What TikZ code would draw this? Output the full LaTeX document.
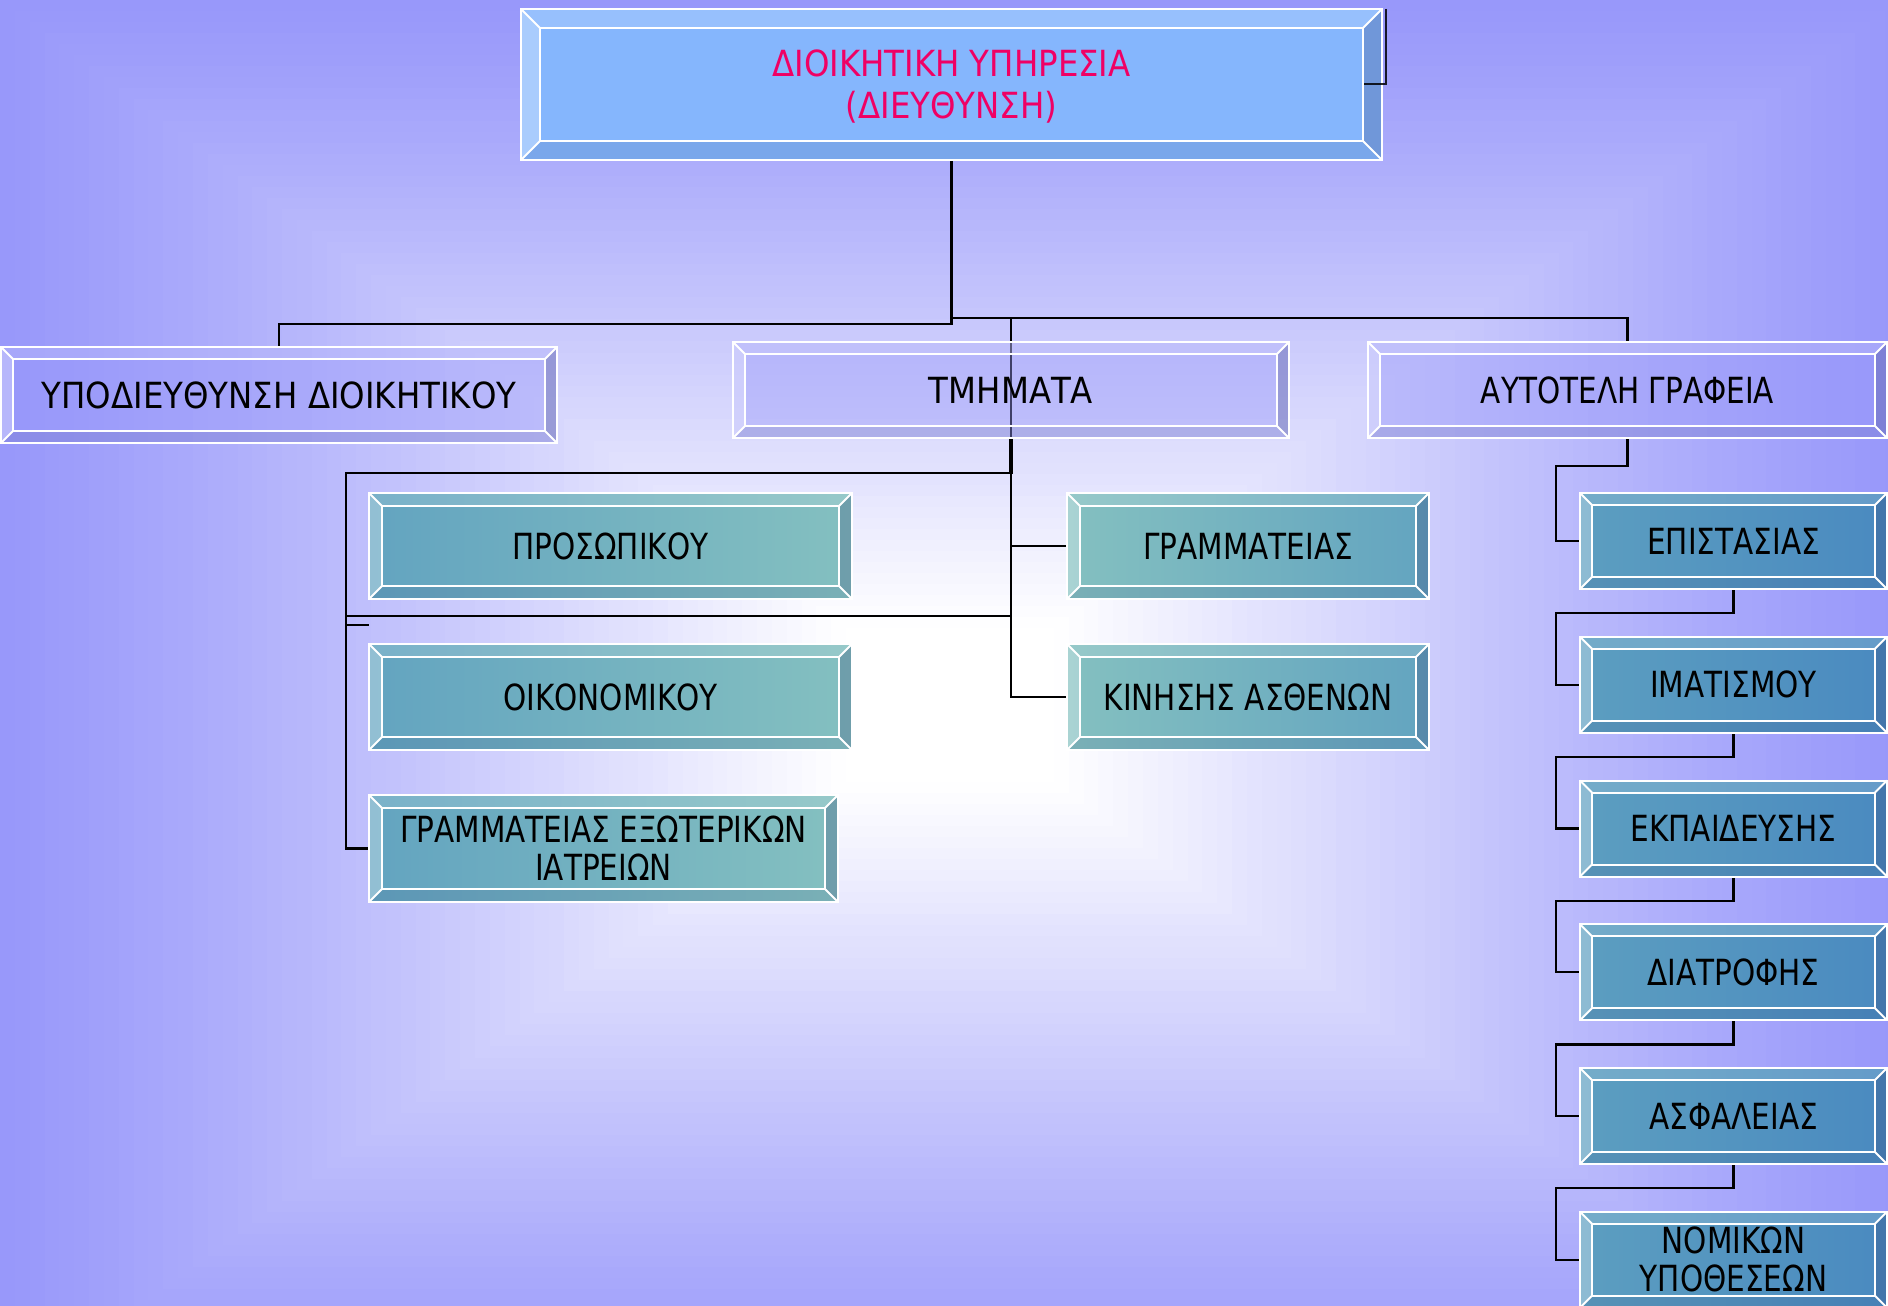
\documentclass[tikz,border=0pt]{standalone}
\usepackage{fontspec}
\setmainfont{DejaVu Sans}
\newfontfamily\nf[FakeStretch=0.82]{DejaVu Sans}
\newfontfamily\wf[FakeStretch=0.9]{DejaVu Sans}
\definecolor{lav}{RGB}{152,152,250}
\definecolor{topblue}{RGB}{133,182,253}
\definecolor{tealA}{RGB}{99,164,192}
\definecolor{tealB}{RGB}{132,192,192}
\definecolor{blueA}{RGB}{92,158,192}
\definecolor{blueB}{RGB}{74,138,192}
\definecolor{darkbev}{RGB}{50,60,110}
\definecolor{pinktxt}{RGB}{240,0,100}
\pgfdeclarelayer{bg}
\pgfsetlayers{bg,main}
\tikzset{
  topbev/.style={fill=white, fill opacity=0.15},
  leftbev/.style={fill=white, fill opacity=0.3},
  botbev/.style={fill=darkbev, fill opacity=0.12},
  rightbev/.style={fill=darkbev, fill opacity=0.25},
  wline/.style={draw=white, line width=2pt},
  conn/.style={draw=black, line width=2.4pt},
  facetop/.style={fill=topblue},
  facelav/.style={fill=lav, fill opacity=0.42},
  faceL/.style={left color=tealA, right color=tealB},
  faceM/.style={left color=tealB, right color=tealA},
  faceR/.style={left color=blueA, right color=blueB},
  boxtext/.style={inner sep=0pt, align=center, text=black, font={\nf\fontsize{36}{38}\selectfont}},
}
% #1 name, #2 x1, #3 y1, #4 x2, #5 y2, #6 bevel, #7 face style, #8 node options, #9 text
\newcommand\bbox[9]{%
  \path[#7] (#2,#3) rectangle (#4,#5);
  \fill[topbev] (#2,#3) -- (#4,#3) -- ({#4-#6},{#3+#6}) -- ({#2+#6},{#3+#6}) -- cycle;
  \fill[leftbev] (#2,#3) -- ({#2+#6},{#3+#6}) -- ({#2+#6},{#5-#6}) -- (#2,#5) -- cycle;
  \fill[botbev] (#2,#5) -- ({#2+#6},{#5-#6}) -- ({#4-#6},{#5-#6}) -- (#4,#5) -- cycle;
  \fill[rightbev] (#4,#3) -- (#4,#5) -- ({#4-#6},{#5-#6}) -- ({#4-#6},{#3+#6}) -- cycle;
  \draw[wline] (#2,#3) rectangle (#4,#5);
  \draw[wline] ({#2+#6},{#3+#6}) rectangle ({#4-#6},{#5-#6});
  \draw[wline] (#2,#3) -- ({#2+#6},{#3+#6});
  \draw[wline] (#4,#3) -- ({#4-#6},{#3+#6});
  \draw[wline] (#2,#5) -- ({#2+#6},{#5-#6});
  \draw[wline] (#4,#5) -- ({#4-#6},{#5-#6});
  \node[boxtext, minimum width={#4-#2}, minimum height={#5-#3}, #8] (#1) at ({(#2+#4)/2},{(#3+#5)/2}) {#9};
}
\begin{document}
\begin{tikzpicture}[x=1pt,y=-1pt]
\useasboundingbox (0,0) rectangle (1888,1306);
% boxes
\bbox{top}{521}{9}{1382}{160}{19}{facetop}{text=pinktxt, font={\wf\fontsize{36}{42}\selectfont}, text depth=0pt}{ΔΙΟΙΚΗΤΙΚΗ ΥΠΗΡΕΣΙΑ\\(ΔΙΕΥΘΥΝΣΗ)}
\bbox{sub}{1}{347}{557}{443}{12}{facelav}{font={\wf\fontsize{36}{38}\selectfont}}{ΥΠΟΔΙΕΥΘΥΝΣΗ ΔΙΟΙΚΗΤΙΚΟΥ}
\bbox{tm}{733}{342}{1289}{438}{12}{facelav}{font={\wf\fontsize{36}{38}\selectfont}}{ΤΜΗΜΑΤΑ}
\bbox{aut}{1368}{342}{1887}{438}{12}{facelav}{}{ΑΥΤΟΤΕΛΗ ΓΡΑΦΕΙΑ}
\bbox{pro}{369}{493}{852}{599}{13}{faceL}{}{ΠΡΟΣΩΠΙΚΟΥ}
\bbox{oik}{369}{644}{852}{750}{13}{faceL}{}{ΟΙΚΟΝΟΜΙΚΟΥ}
\bbox{gex}{369}{795}{838}{902}{13}{faceL}{}{ΓΡΑΜΜΑΤΕΙΑΣ ΕΞΩΤΕΡΙΚΩΝ\\ΙΑΤΡΕΙΩΝ}
\bbox{gram}{1067}{493}{1429}{599}{13}{faceM}{}{ΓΡΑΜΜΑΤΕΙΑΣ}
\bbox{kin}{1067}{644}{1429}{750}{13}{faceM}{}{ΚΙΝΗΣΗΣ ΑΣΘΕΝΩΝ}
\bbox{epi}{1580}{493}{1887}{589}{12}{faceR}{}{ΕΠΙΣΤΑΣΙΑΣ}
\bbox{ima}{1580}{636.75}{1887}{732.75}{12}{faceR}{}{ΙΜΑΤΙΣΜΟΥ}
\bbox{ekp}{1580}{780.5}{1887}{876.5}{12}{faceR}{}{ΕΚΠΑΙΔΕΥΣΗΣ}
\bbox{dia}{1580}{924.25}{1887}{1020.25}{12}{faceR}{}{ΔΙΑΤΡΟΦΗΣ}
\bbox{asf}{1580}{1068}{1887}{1164}{12}{faceR}{}{ΑΣΦΑΛΕΙΑΣ}
\bbox{nom}{1580}{1211.75}{1887}{1307.75}{12}{faceR}{}{ΝΟΜΙΚΩΝ\\ΥΠΟΘΕΣΕΩΝ}
% background and connectors underneath
\begin{pgfonlayer}{bg}
\foreach \i in {0,...,63}{
  \pgfmathsetmacro\s{1-\i/64}
  \pgfmathsetmacro\u{max(0,min(1,(\s-0.12)/0.88))}
  \pgfmathsetmacro\p{100*(1-max(1-\u,0.0001)^1.15)}
  \fill[lav!\p!white] ({950-950*\s},{705-705*\s}) rectangle ({950+950*\s},{705+705*\s});
}
\draw[conn] (top.south) -- ++(0,164) -| (sub.north);
\draw[conn] (top.south) ++(0,158) -| (aut.north);
\draw[conn] (tm.north) ++(0,-24) -- (tm.south);
\draw[black, line width=4.5pt] (tm.south) -- ++(0,36);
\draw[conn] (tm.south) |- (kin.west);
\draw[conn] (tm.south |- gram.west) -- (gram.west);
\draw[conn] (tm.south) ++(0,35) -| ([xshift=-23pt]gex.west) -- (gex.west);
\coordinate (jL) at (346,616);
\coordinate (jS) at (346,625);
\draw[conn] (jL) -- (jL -| tm.south);
\draw[conn] (jS) -- (jS -| oik.west);
\draw[conn] (aut.south) -- ++(0,28) -| ([xshift=-24pt]epi.west) -- (epi.west);
\draw[conn] (epi.south) -- ++(0,24) -| ([xshift=-24pt]ima.west) -- (ima.west);
\draw[conn] (ima.south) -- ++(0,24) -| ([xshift=-24pt]ekp.west) -- (ekp.west);
\draw[conn] (ekp.south) -- ++(0,24) -| ([xshift=-24pt]dia.west) -- (dia.west);
\draw[conn] (dia.south) -- ++(0,24) -| ([xshift=-24pt]asf.west) -- (asf.west);
\draw[conn] (asf.south) -- ++(0,24) -| ([xshift=-24pt]nom.west) -- (nom.west);
\end{pgfonlayer}
% bracket at top right
\draw[black, line width=2.4pt, opacity=0.85] (top.north east) ++(4,0) -- ++(0,75) -- ++(-22,0);
\end{tikzpicture}
\end{document}
